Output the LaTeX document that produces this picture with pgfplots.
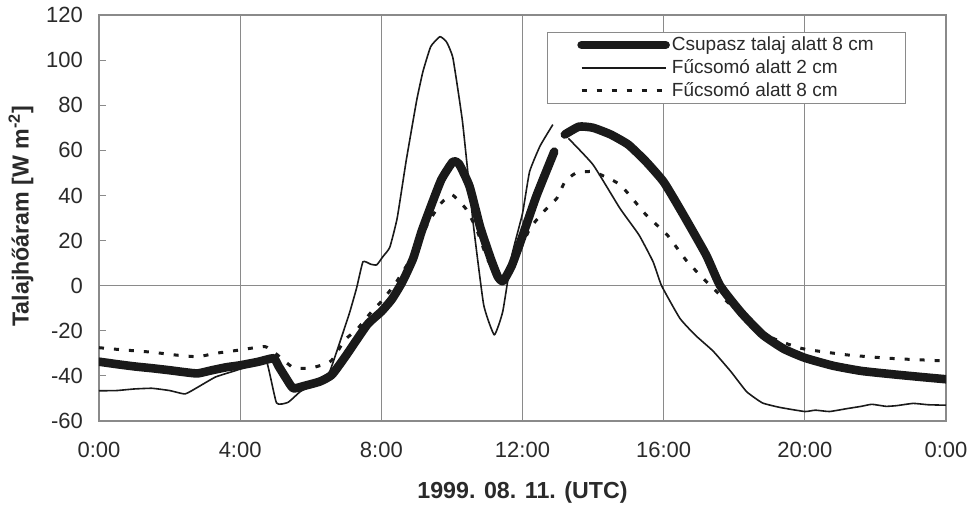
\documentclass[border=0pt]{standalone}
\usepackage{fontspec}
\setmainfont{Liberation Sans}
\usepackage{pgfplots}
\pgfplotsset{compat=1.18}
\definecolor{txt}{HTML}{2A2A2A}
\definecolor{ln}{HTML}{1A1A1A}
\definecolor{grd}{HTML}{8A8A8A}
\begin{document}
\begin{tikzpicture}
\useasboundingbox (-49.5pt,-43pt) rectangle (440pt,210.5pt);
\begin{axis}[
  at={(0,0)}, anchor=south west,
  scale only axis, width=423.5pt, height=203pt,
  xmin=0, xmax=24, ymin=-60, ymax=120,
  xtick={0,4,...,24}, xticklabels={0:00,4:00,8:00,12:00,16:00,20:00,0:00},
  ytick={-60,-40,...,120},
  /pgf/number format/assume math mode=true,
  tick label style={font=\fontsize{11}{13}\selectfont, text=txt},
  yticklabel style={xshift=-4.5pt},
  xticklabel style={yshift=-7pt},
  ytick pos=left, xtick pos=bottom,
  tick align=inside, major tick length=3.5pt,
  xtick style={draw=none},
  ytick style={grd, line width=0.5pt},
  xmajorgrids, grid style={grd, line width=0.5pt},
  extra y ticks={0}, extra y tick labels={},
  extra y tick style={grid=major, major tick length=0pt},
  axis line style={grd, line width=0.6pt},
  xlabel={\textbf{1999. 08. 11. (UTC)}},
  ylabel={\textbf{Talajhőáram [W m\textsuperscript{-2}]}},
  label style={font=\fontsize{11.6}{13}\selectfont, text=txt},
  xlabel style={at={(axis description cs:0.5,-0.1773)}, anchor=center},
  ylabel style={at={(axis description cs:-0.0921,0.505)}, anchor=center, rotate=0},
  unbounded coords=jump,
  legend cell align=left,
  legend image code/.code={\draw[#1] (0pt,0pt) -- (42pt,0pt);},
  legend style={at={(axis description cs:0.5287,0.958)}, anchor=north west,
    draw=grd, line width=0.5pt, fill=white, font=\fontsize{9.5}{11.5}\selectfont,
    text=txt, inner xsep=15pt, inner ysep=0pt, row sep=-1pt,
    nodes={inner xsep=1pt}},
]
\addplot[ln, line width=4.3pt, line cap=round, line join=round, smooth, tension=0.3] coordinates {
(0,-33.7) (0.5,-34.8) (1.0,-35.8) (1.5,-36.6) (2.0,-37.5) (2.5,-38.5) (2.8,-38.9)
(3.2,-37.5) (3.6,-36.2) (4.0,-35.3) (4.5,-33.8) (4.95,-32.2) (5.1,-36) (5.3,-41)
(5.5,-45.5) (5.8,-44.5) (6.26,-42.5) (6.6,-39.5) (7.0,-31) (7.6,-17.3) (8.0,-11.5)
(8.3,-6) (8.6,1.8) (8.9,12) (9.14,24) (9.4,35) (9.7,47) (10.03,55) (10.2,54)
(10.5,44) (10.8,26) (11.1,12) (11.3,4) (11.45,2) (11.7,9) (12.0,22) (12.4,40)
(12.9,59.4) (12.95,nan) (13.2,67) (13.6,70.5) (14.0,70) (14.5,67) (15.0,62.5)
(15.5,55) (16.0,46) (16.5,33) (17.2,13.7) (17.6,0) (18.2,-12) (18.8,-21.7)
(19.4,-28) (20.0,-32) (20.8,-35.5) (21.6,-37.8) (22.5,-39.3) (23.3,-40.5) (24,-41.5)
};
\addlegendentry{Csupasz talaj alatt 8 cm}
\addplot[ln, line width=0.8pt, line join=round, smooth, tension=0.25] coordinates {
(0,-46.6) (0.5,-46.5) (1.0,-45.8) (1.5,-45.5) (2.0,-46.5) (2.44,-48) (2.8,-45)
(3.3,-40.5) (3.8,-38) (4.0,-37) (4.4,-35) (4.75,-33.7) (5.03,-52) (5.36,-51.7)
(5.7,-47) (6.0,-44.5) (6.3,-42) (6.54,-38) (6.83,-24.8) (7.1,-12) (7.3,-1)
(7.48,10.6) (7.7,9.5) (7.87,9.2) (8.05,13) (8.24,17) (8.45,30) (8.7,55) (9.0,82)
(9.18,95) (9.4,106) (9.66,110.4) (9.85,108) (10.03,100.8) (10.3,72.7) (10.6,28)
(10.9,-8.5) (11.2,-21.8) (11.44,-11.5) (11.7,13.6) (12.0,32) (12.2,50.5)
(12.5,62) (12.86,71.4) (12.9,nan) (13.3,65.3) (14.0,53.6) (14.76,34.3) (15.3,22.5)
(15.7,10.6) (15.94,0) (16.46,-14.5) (16.9,-22) (17.4,-29) (17.9,-38) (18.35,-47)
(18.8,-52) (19.3,-54) (20.0,-55.8) (20.3,-55.2) (20.7,-55.8) (21.2,-54.5)
(21.6,-53.5) (21.9,-52.6) (22.3,-53.5) (22.6,-53.2) (23.07,-52.2) (23.5,-52.8) (24,-53)
};
\addlegendentry{Fűcsomó alatt 2 cm}
\addplot[ln, line width=1.5pt, dash pattern=on 2.5pt off 5pt, smooth, tension=0.3] coordinates {
(0,-27.5) (0.7,-28.5) (1.5,-29.5) (2.2,-30.8) (2.8,-31.5) (3.3,-30) (4.0,-28.5)
(4.7,-27) (5.0,-30) (5.5,-36.3) (6.0,-36.5) (6.35,-35) (6.6,-33) (6.97,-24)
(7.3,-19.6) (7.7,-12) (8.0,-7) (8.4,1) (8.9,13.7) (9.3,27) (9.66,36) (10.0,40.3)
(10.4,34) (10.7,25) (11.0,12) (11.3,4) (11.45,3) (11.7,8) (12.2,25) (12.6,32.8)
(12.97,38.7) (13.2,46) (13.5,49.8) (14.0,50.5) (14.76,44.8) (15.5,31.4) (16.1,22.5)
(16.65,11) (17.3,0.4) (18.2,-12.9) (19.0,-22.6) (19.9,-27.8) (21.2,-30.7)
(22.5,-32.3) (24,-33.4)
};
\addlegendentry{Fűcsomó alatt 8 cm}
\end{axis}
\end{tikzpicture}
\end{document}
